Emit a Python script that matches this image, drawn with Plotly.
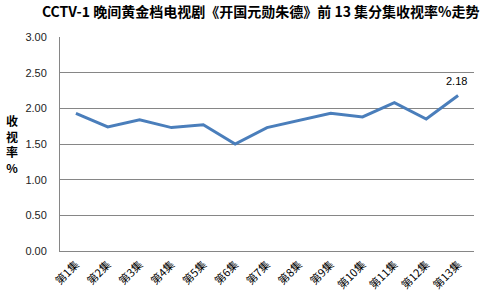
import plotly.graph_objects as go

episodes = ["第1集", "第2集", "第3集", "第4集", "第5集", "第6集", "第7集",
            "第8集", "第9集", "第10集", "第11集", "第12集", "第13集"]
ratings = [1.93, 1.74, 1.84, 1.73, 1.77, 1.50, 1.73, 1.83, 1.93, 1.88, 2.08, 1.85, 2.18]
y_ticks = [0, 0.5, 1.0, 1.5, 2.0, 2.5, 3.0]

title_text = "CCTV-1 晚间黄金档电视剧《开国元勋朱德》前 13 集分集收视率%走势"
y_title = "收<br>视<br>率<br>%"

fig = go.Figure()
fig.add_trace(go.Scatter(
    x=episodes, y=ratings, mode="lines",
    line=dict(color="#4A7EBB", width=3),
    hoverinfo="skip",
))
fig.add_annotation(
    x=episodes[-1], y=ratings[-1], text=f"{ratings[-1]:.2f}",
    showarrow=False, yshift=14, xshift=-2,
    font=dict(family="Liberation Sans, Arial", size=11, color="#000000"),
)
fig.add_annotation(
    xref="paper", yref="paper", x=-0.115, y=0.5, xanchor="center", yanchor="middle",
    text=y_title, showarrow=False, align="center",
    font=dict(family="Noto Sans CJK SC", size=12, color="#000000", weight="bold"),
)

fig.update_layout(
    width=492, height=301,
    margin=dict(l=60, r=18, t=37, b=50),
    paper_bgcolor="white", plot_bgcolor="white",
    showlegend=False,
    title=dict(
        text=f"<b>{title_text}</b>", x=0.53, xanchor="center", y=0.96, yanchor="middle",
        font=dict(family="Noto Sans CJK SC", size=14, color="#000000"),
    ),
    xaxis=dict(
        type="category", showgrid=False, showline=True, linecolor="#868686", linewidth=1,
        tickangle=-45, ticks="", ticklabelstandoff=2, automargin=False,
        tickfont=dict(family="Noto Sans CJK SC", size=11, color="#000000"),
        range=[-0.5, len(episodes) - 0.5],
    ),
    yaxis=dict(
        range=[0, 3.0], tickvals=y_ticks, tickformat=".2f",
        showgrid=True, gridcolor="#868686", gridwidth=1,
        showline=True, linecolor="#868686", linewidth=1, automargin=False,
        zeroline=False, ticks="", ticklabelstandoff=10,
        tickfont=dict(family="Liberation Sans, Arial", size=11, color="#222222"),
    ),
)

fig.write_html("out.html")
